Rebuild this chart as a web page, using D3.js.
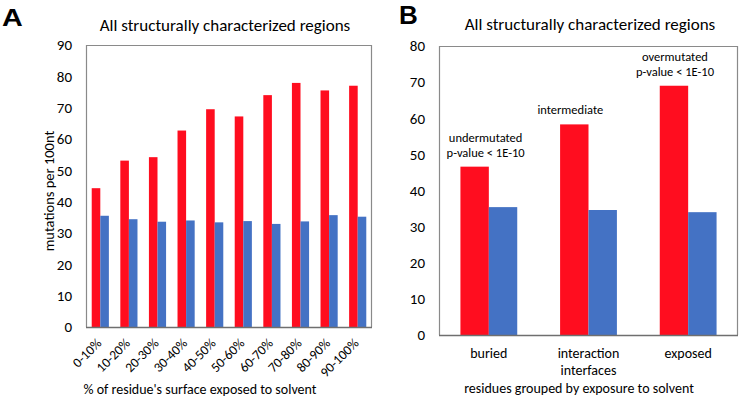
<!DOCTYPE html>
<html><head><meta charset="utf-8">
<script src="https://cdn.jsdelivr.net/npm/d3@7"></script>
<style>
body{margin:0;background:#fff;}
text{font-family:Carlito,Lato,sans-serif;fill:#000;}
</style></head>
<body><svg id="c" width="750" height="405"></svg>
<script>
// ---- data ----
const titleA = "All structurally characterized regions";
const titleB = "All structurally characterized regions";
const catsA = ["0-10%","10-20%","20-30%","30-40%","40-50%","50-60%","60-70%","70-80%","80-90%","90-100%"];
const redA  = [44.3,53.1,54.2,62.7,69.5,67.2,74.0,77.9,75.5,77.0];
const blueA = [35.5,34.4,33.6,34.0,33.4,33.8,32.9,33.7,35.7,35.2];
const ticksA = [0,10,20,30,40,50,60,70,80,90];
const yLabelA = "mutations per 100nt";
const xLabelA = "% of residue's surface exposed to solvent";

const catsB = ["buried","interaction interfaces","exposed"];
const catLinesB = [["buried"],["interaction","interfaces"],["exposed"]];
const redB  = [46.6,58.3,69.0];
const blueB = [35.4,34.6,34.0];
const ticksB = [0,10,20,30,40,50,60,70,80];
const annotB = [["undermutated","p-value < 1E-10"],["intermediate"],["overmutated","p-value < 1E-10"]];
const xLabelB = "residues grouped by exposure to solvent";

const RED = "#FF0D1F", BLUE = "#4472C4", BORDER = "#8A8A8A";
const svg = d3.select("#c");

function panel(o){
  const g = svg.append("g");
  const x0 = d3.scaleBand().domain(o.cats).range([o.l,o.r]).paddingInner(o.pi).paddingOuter(o.po);
  const x1 = d3.scaleBand().domain(["red","blue"]).range([0,x0.bandwidth()]);
  const y = d3.scaleLinear().domain([0,o.ymax]).range([o.b,o.t]);
  // bars
  const grp = g.selectAll("g.cat").data(o.cats).enter().append("g")
    .attr("transform",d=>`translate(${x0(d)},0)`);
  grp.append("rect").attr("x",x1("red")).attr("width",x1.bandwidth())
    .attr("y",(d,i)=>y(o.red[i])).attr("height",(d,i)=>y(0)-y(o.red[i])).attr("fill",RED);
  grp.append("rect").attr("x",x1("blue")).attr("width",x1.bandwidth())
    .attr("y",(d,i)=>y(o.blue[i])).attr("height",(d,i)=>y(0)-y(o.blue[i])).attr("fill",BLUE);
  // frame
  g.append("path").attr("d",`M${o.l+0.5},${o.b}V${o.t+0.5}H${o.r-0.5}V${o.b}`)
    .attr("fill","none").attr("stroke",BORDER).attr("stroke-width",1.2);
  g.append("line").attr("x1",o.l).attr("x2",o.r).attr("y1",o.b+0.5).attr("y2",o.b+0.5)
    .attr("stroke","#6f6f6f").attr("stroke-width",1.3);
  // y axis
  const ya = g.append("g").attr("transform",`translate(${o.l},0)`)
    .call(d3.axisLeft(y).tickValues(o.ticks).tickSize(0).tickPadding(14));
  ya.select(".domain").remove();
  ya.selectAll("text").style("font-family","Carlito,Lato,sans-serif").style("font-size","15px").attr("fill","#000");
  // title
  g.append("text").attr("x",o.tx).attr("y",o.ty).attr("text-anchor","middle")
    .style("font-size","17px").text(o.title);
  g.append("text").attr("transform",`translate(${o.lx},${o.ly}) scale(${o.lsx},1)`)
    .style("font-family","Liberation Sans,Arial,sans-serif")
    .style("font-weight","bold").style("font-size",o.lfs+"px").text(o.letter);
  return {x0,x1,y,g};
}

// ---- Panel A ----
const A = panel({cats:catsA,red:redA,blue:blueA,ticks:ticksA,ymax:90,l:86,r:372,t:45,b:327,pi:0.4,po:0.2,
  title:titleA,tx:225,ty:31,letter:"A",lx:2,ly:26,lfs:23,lsx:1.25});
const xa = A.g.append("g").attr("transform",`translate(0,${A.y(0)})`)
  .call(d3.axisBottom(A.x0).tickSize(0).tickPadding(0));
xa.select(".domain").remove();
xa.selectAll("text").style("font-family","Carlito,Lato,sans-serif").style("font-size","13.5px")
  .attr("text-anchor","end").attr("dy",0).attr("y",0)
  .attr("transform","translate(2,17) rotate(-45)");
A.g.append("text").attr("x",200).attr("y",394).attr("text-anchor","middle").style("font-size","14px").text(xLabelA);
A.g.append("text").attr("transform","translate(54,191) rotate(-90)").attr("text-anchor","middle")
  .style("font-size","14.5px").text(yLabelA);

// ---- Panel B ----
const B = panel({cats:catsB,red:redB,blue:blueB,ticks:ticksB,ymax:80,l:439,r:738,t:46,b:335,pi:0.43,po:0.215,
  title:titleB,tx:590,ty:30,letter:"B",lx:399,ly:24,lfs:26,lsx:1});
catsB.forEach((c,i)=>{
  const cx = B.x0(c)+B.x0.bandwidth()/2;
  const t = B.g.append("text").attr("x",cx).attr("y",358).attr("text-anchor","middle").style("font-size","14px");
  catLinesB[i].forEach((ln,j)=>t.append("tspan").attr("x",cx).attr("dy",j?17:0).text(ln));
});
B.g.append("text").attr("x",579).attr("y",393).attr("text-anchor","middle").style("font-size","14px").text(xLabelB);
const annDx = [11,-4,1];
catsB.forEach((c,i)=>{
  const cx = B.x0(c)+B.x1("red")+B.x1.bandwidth()/2+annDx[i];
  const lines = annotB[i];
  const base = B.y(redB[i]) - 10;
  const t = B.g.append("text").attr("text-anchor","middle").style("font-size","12.5px");
  lines.forEach((ln,j)=>t.append("tspan").attr("x",cx).attr("y",base-(lines.length-1-j)*15).text(ln));
});
</script></body></html>
